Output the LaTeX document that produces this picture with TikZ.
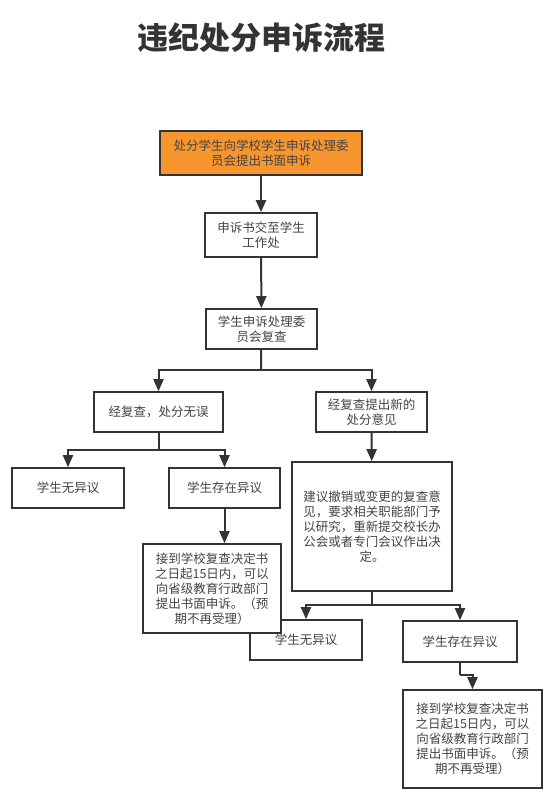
\documentclass[tikz,border=0pt]{standalone}
\usepackage{fontspec}
\setmainfont{Noto Sans CJK SC}
\usepackage{xcolor}
\usepackage{tikz}
\usetikzlibrary{arrows.meta}
\definecolor{linegray}{RGB}{51,51,51}
\definecolor{textgray}{RGB}{68,68,68}
\definecolor{applyorange}{RGB}{247,150,46}
\tikzset{
  flowbox/.style={
    draw=linegray,
    fill=white,
    rectangle,
    line width=1.6pt,
    align=center,
    inner sep=2pt,
    text=textgray,
    font=\fontsize{12.5}{15}\selectfont
  },
  flowarrow/.style={
    draw=linegray,
    line width=2pt,
    -{Triangle[length=12pt,width=10pt]}
  },
  flowline/.style={
    draw=linegray,
    line width=2pt
  }
}

\begin{document}
\begin{tikzpicture}[x=1pt, y=-1pt]
  \useasboundingbox (0,0) rectangle (554,803);

  \node[text=linegray, font=\fontsize{31}{35}\selectfont\bfseries] (title) at (261,38) {违纪处分申诉流程};

  \node[flowbox, fill=applyorange, minimum width=202pt, minimum height=44pt] (apply) at (261,153)
    {处分学生向学校学生申诉处理委\\员会提出书面申诉};
  \node[flowbox, minimum width=112pt, minimum height=44pt] (submit) at (261,235)
    {申诉书交至学生\\工作处};
  \node[flowbox, minimum width=111pt, minimum height=40pt] (review) at (261.5,329)
    {学生申诉处理委\\员会复查};
  \node[flowbox, minimum width=129pt, minimum height=40pt] (keep) at (158.5,412)
    {经复查，处分无误};
  \node[flowbox, minimum width=111pt, minimum height=40pt] (change) at (371.5,412)
    {经复查提出新的\\处分意见};
  \node[flowbox, minimum width=112pt, minimum height=40pt] (agreeA) at (68,488)
    {学生无异议};
  \node[flowbox, minimum width=111pt, minimum height=40pt] (objectA) at (224.5,488)
    {学生存在异议};
  \node[flowbox, minimum width=160pt, minimum height=129pt] (decide) at (372,526.5)
    {建议撤销或变更的复查意\\见，要求相关职能部门予\\以研究，重新提交校长办\\公会或者专门会议作出决\\定。};
  \node[flowbox, minimum width=112pt, minimum height=40pt] (agreeB) at (306,640)
    {学生无异议};
  % drawn after agreeB, it lies over its corner
  \node[flowbox, minimum width=138pt, minimum height=89pt] (appealA) at (212,588.5)
    {接到学校复查决定书\\之日起15日内，可以\\向省级教育行政部门\\提出书面申诉。（预\\期不再受理）};
  \node[flowbox, minimum width=114pt, minimum height=41pt] (objectB) at (460,641.5)
    {学生存在异议};
  \node[flowbox, minimum width=139pt, minimum height=98pt] (appealB) at (472.5,739)
    {接到学校复查决定书\\之日起15日内，可以\\向省级教育行政部门\\提出书面申诉。（预\\期不再受理）};

  \coordinate (splitR) at (261,370);
  \coordinate (splitK) at (158.5,450);
  \coordinate (splitD) at (372,605);
  \coordinate (bendB) at (460,675);

  \draw[flowarrow] (apply) -- (submit);
  \draw[flowarrow] (submit) -- (review);
  \draw[flowline] (review) -- (splitR);
  \draw[flowarrow] (splitR) -| (keep);
  \draw[flowarrow] (splitR) -| (change);
  \draw[flowline] (keep) -- (splitK);
  \draw[flowarrow] (splitK) -| (agreeA);
  \draw[flowarrow] (splitK) -| (objectA);
  \draw[flowarrow] (objectA.south) -- (objectA.south |- appealA.north);
  \draw[flowarrow] (change) -- (decide);
  \draw[flowline] (decide) -- (splitD);
  \draw[flowarrow] (splitD) -| (agreeB);
  \draw[flowarrow] (splitD) -| (objectB);
  \draw[flowline] (objectB) -- (bendB);
  \draw[flowarrow] (bendB) -| (appealB);
\end{tikzpicture}
\end{document}
